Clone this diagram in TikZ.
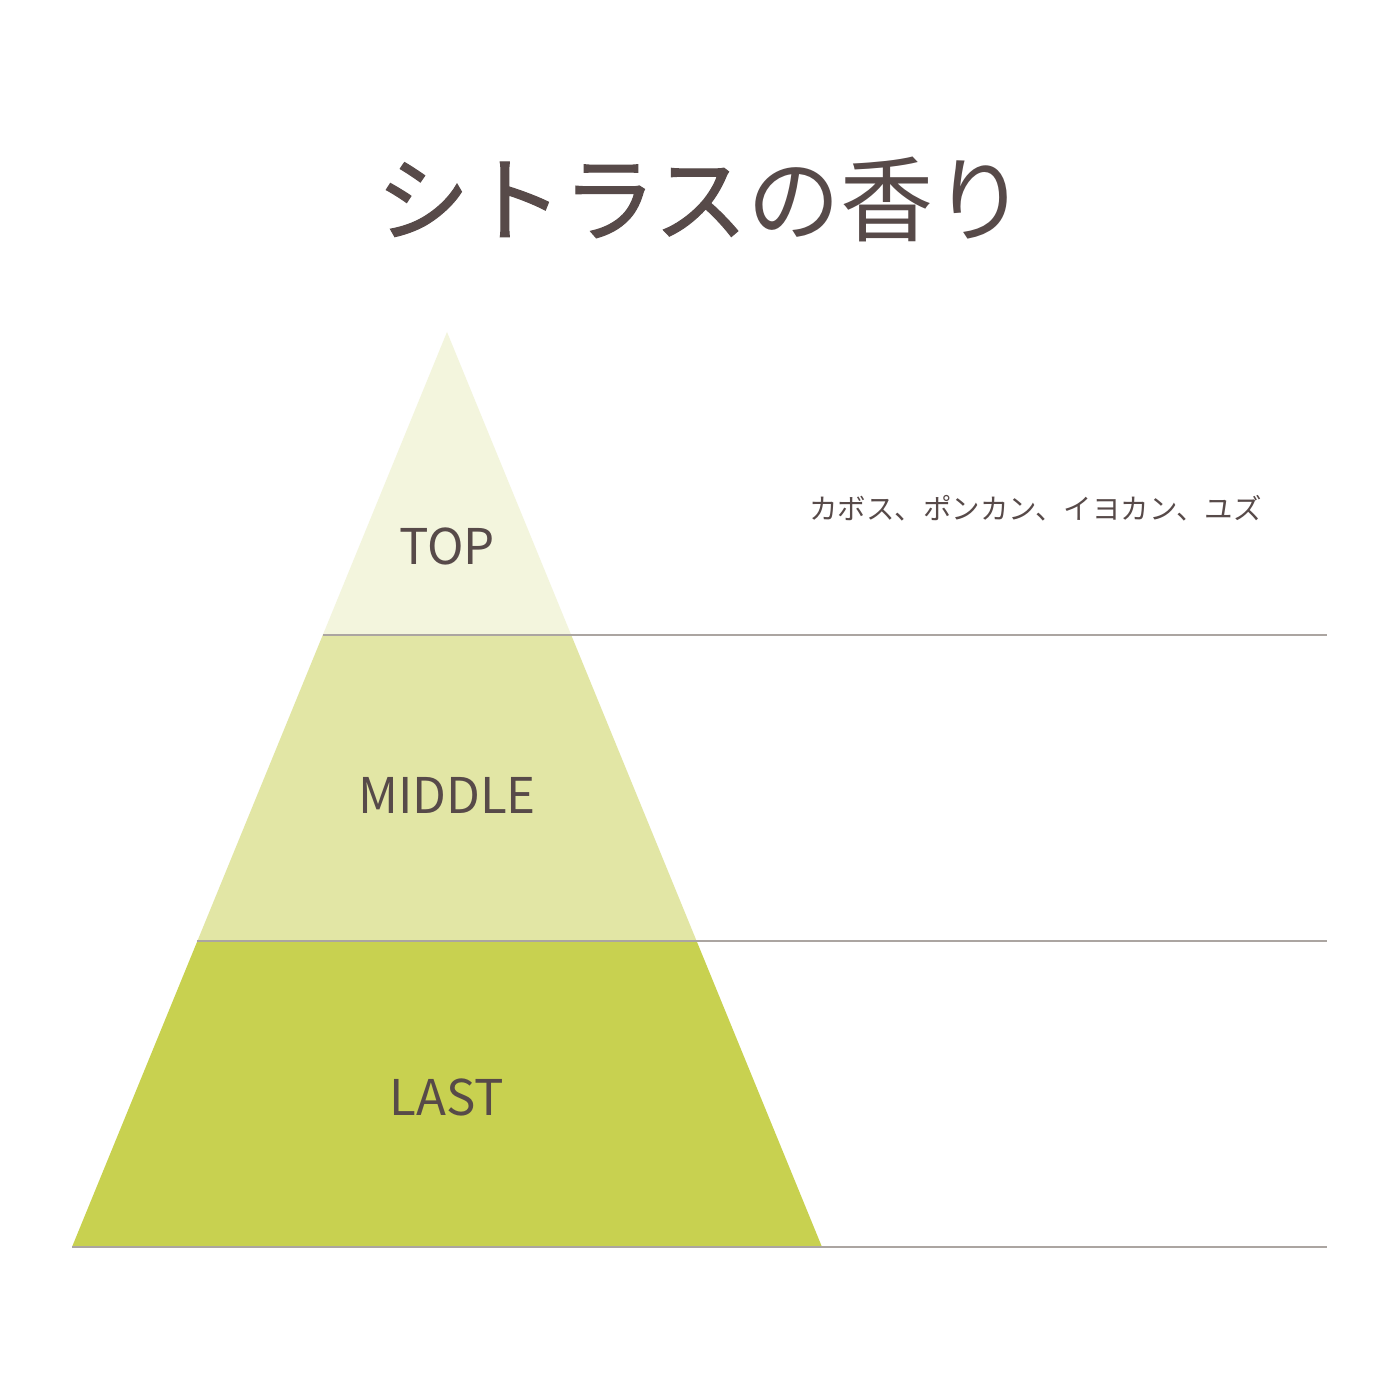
\documentclass[tikz,border=0pt]{standalone}
\usepackage{fontspec}
\setmainfont{Noto Sans CJK JP}
\newfontfamily\heavyfont{Noto Sans CJK JP}[FakeBold=1.2]
\definecolor{textbrown}{HTML}{574A49}
\definecolor{topgreen}{HTML}{F3F5DD}
\definecolor{middlegreen}{HTML}{E2E6A5}
\definecolor{lastgreen}{HTML}{C8D150}
\definecolor{rulegray}{HTML}{ABA5A1}
\tikzset{
  layer/.style={text=textbrown, font=\fontsize{14}{16}\selectfont},
  rule/.style={draw=rulegray, line width=0.45pt}
}
\begin{document}
\begin{tikzpicture}
  \useasboundingbox (0,0) rectangle (14,14);
  \fill[white] (0,0) rectangle (14,14);

  \coordinate (apex) at (4.47,10.68);
  \coordinate (A) at (3.228,7.65);
  \coordinate (B) at (5.712,7.65);
  \coordinate (C) at (1.974,4.59);
  \coordinate (D) at (6.966,4.59);
  \coordinate (E) at (0.72,1.53);
  \coordinate (F) at (8.22,1.53);
  \coordinate (B') at (13.27,7.65);
  \coordinate (D') at (13.27,4.59);
  \coordinate (F') at (13.27,1.53);

  \fill[topgreen] (apex) -- (B) -- (A) -- cycle;
  \fill[middlegreen] (A) -- (B) -- (D) -- (C) -- cycle;
  \fill[lastgreen] (C) -- (D) -- (F) -- (E) -- cycle;

  \draw[rule] (A) -- (B');
  \draw[rule] (C) -- (D');
  \draw[rule] (E) -- (F');

  \node[text=textbrown, font=\fontsize{26.5}{29}\selectfont] (title) at (7.015,12.01) {{\heavyfont シトラス}の香り};
  \node[layer] (top) at (4.47,8.54) {TOP};
  \node[layer] (middle) at (4.47,6.05) {MIDDLE};
  \node[layer] (last) at (4.47,3.03) {LAST};
  \node[text=textbrown, font=\fontsize{8.1}{10}\selectfont] (notes) at (10.355,8.92) {カボス、ポンカン、イヨカン、ユズ};
\end{tikzpicture}
\end{document}
